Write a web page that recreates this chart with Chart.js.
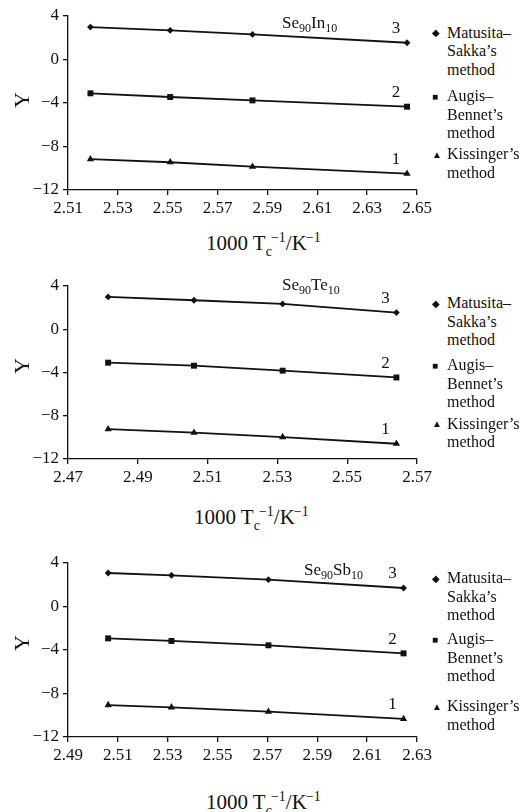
<!DOCTYPE html>
<html>
<head>
<meta charset="utf-8">
<script src="https://cdn.jsdelivr.net/npm/chart.js@4/dist/chart.umd.min.js"></script>
<style>
  body { margin: 0; background: #fff; }
  #page { position: relative; width: 523px; height: 812px; overflow: hidden; font-family: "Liberation Serif", "Times New Roman", serif; color: #111; }
  canvas { position: absolute; left: 0; }
  .txt { position: absolute; white-space: nowrap; }
  .title { font-size: 17px; line-height: 20px; }
  .title sub { font-size: 12px; vertical-align: -4px; line-height: 0; }
  .xtitle { font-size: 21px; line-height: 24px; }
  .xtitle sub { font-size: 14px; vertical-align: -6px; line-height: 0; }
  .xtitle sup { font-size: 14px; vertical-align: 8px; line-height: 0; margin-left: -1px; }
  .ytitle { font-size: 22px; line-height: 24px; transform: rotate(-90deg); }
  .legend { font-size: 16px; line-height: 18.5px; }
  .mark { position: absolute; font-size: 10px; line-height: 12px; }
</style>
</head>
<body>
<div id="page"></div>
<script>
// Se90In10
const inX = [2.519, 2.551, 2.584, 2.646];
const inMatusita = [2.98, 2.68, 2.31, 1.54];
const inAugis = [-3.11, -3.45, -3.76, -4.34];
const inKissinger = [-9.17, -9.45, -9.85, -10.50];
const inXRange = [2.51, 2.65];

// Se90Te10
const teX = [2.4815, 2.5061, 2.5315, 2.5641];
const teMatusita = [2.99, 2.68, 2.34, 1.54];
const teAugis = [-3.09, -3.37, -3.83, -4.46];
const teKissinger = [-9.24, -9.57, -9.97, -10.59];
const teXRange = [2.47, 2.57];

// Se90Sb10
const sbX = [2.5061, 2.5315, 2.5704, 2.6246];
const sbMatusita = [3.08, 2.87, 2.47, 1.70];
const sbAugis = [-2.93, -3.17, -3.57, -4.31];
const sbKissinger = [-9.06, -9.27, -9.67, -10.34];
const sbXRange = [2.49, 2.63];

const xStep = 0.02;
const yRange = [-12, 4];
const yStep = 2;
const yLabelEvery = 4;

const methodNames = ["Matusita–Sakka’s method", "Augis–Bennet’s method", "Kissinger’s method"];
const curveNumbers = ["3", "2", "1"];
const pointStyles = ["rectRot", "rect", "triangle"];

const FONT = '"Liberation Serif", "Times New Roman", Times, serif';
Chart.defaults.font.family = FONT;
Chart.defaults.color = "#111";
const page = document.getElementById("page");

// curve numbers 1/2/3 next to the last point of each line
const curveLabels = {
    id: "curveLabels",
    afterDatasetsDraw(chart) {
        const ctx = chart.ctx;
        ctx.save();
        ctx.font = "17px " + FONT;
        ctx.fillStyle = "#111";
        ctx.textAlign = "center";
        ctx.textBaseline = "middle";
        chart.data.datasets.forEach((ds, i) => {
            const pts = chart.getDatasetMeta(i).data;
            const last = pts[pts.length - 1];
            ctx.fillText(curveNumbers[i], last.x - 11, last.y - 14);
        });
        ctx.restore();
    }
};

function addText(cls, html, left, top) {
    const d = document.createElement("div");
    d.className = "txt " + cls;
    d.innerHTML = html;
    d.style.left = left + "px";
    d.style.top = top + "px";
    page.appendChild(d);
    return d;
}

function makePanel(p) {
    const cv = document.createElement("canvas");
    cv.style.top = p.top + "px";
    cv.style.width = "440px";
    cv.style.height = p.height + "px";
    cv.width = 440;
    cv.height = p.height;
    page.appendChild(cv);

    const series = [p.matusita, p.augis, p.kissinger];
    new Chart(cv.getContext("2d"), {
        type: "scatter",
        data: {
            datasets: series.map((ys, i) => ({
                label: methodNames[i],
                data: p.x.map((x, j) => ({ x: x, y: ys[j] })),
                showLine: true,
                borderColor: "#111",
                backgroundColor: "#111",
                borderWidth: 1.8,
                pointStyle: pointStyles[i],
                pointRadius: i === 0 ? 3.4 : 4.2,
                pointBorderWidth: 0,
                pointHoverRadius: 4
            }))
        },
        options: {
            responsive: false,
            animation: false,
            layout: { padding: { top: p.padTop, right: 23, left: 0, bottom: 0 } },
            plugins: { legend: { display: false }, tooltip: { enabled: false } },
            scales: {
                x: {
                    type: "linear",
                    min: p.xRange[0],
                    max: p.xRange[1],
                    afterFit: s => { s.height = 30; },
                    border: { display: true, color: "#111", width: 1.3 },
                    grid: { drawOnChartArea: false, drawTicks: true, tickLength: 5, color: "#111", lineWidth: 1.3 },
                    ticks: {
                        stepSize: xStep,
                        padding: 3,
                        color: "#111",
                        font: { family: FONT, size: 17 },
                        maxRotation: 0,
                        callback: v => Number(v).toFixed(2)
                    }
                },
                y: {
                    min: yRange[0],
                    max: yRange[1],
                    afterFit: s => { s.width = 68; },
                    border: { display: true, color: "#111", width: 1.3 },
                    grid: { drawOnChartArea: false, drawTicks: true, tickLength: 5, color: "#111", lineWidth: 1.3 },
                    ticks: {
                        stepSize: yStep,
                        padding: 4,
                        color: "#111",
                        font: { family: FONT, size: 17 },
                        callback: v => (v % yLabelEvery === 0 ? String(v).replace("-", "\u2212") : "")
                    }
                }
            }
        },
        plugins: [curveLabels]
    });

    addText("title", p.title, p.titlePos[0], p.titlePos[1] - 10);
    addText("xtitle", "1000 T<sub>c</sub><sup>\u22121</sup>/K<sup>\u22121</sup>", p.xTitlePos[0], p.xTitlePos[1] - 12);
    addText("ytitle", "Y", p.yTitlePos[0] - 8, p.yTitlePos[1] - 12);

    const lines = [["Matusita–", "Sakka’s", "method"], ["Augis–", "Bennet’s", "method"], ["Kissinger’s", "method"]];
    const marks = ["\u25C6", "\u25A0", "\u25B2"];
    lines.forEach((grp, g) => {
        const y0 = p.legendY[g];
        addText("legend", grp.join("<br>"), 447, y0 - 9.25);
        addText("mark", marks[g], 432, y0 - 6);
    });
}

makePanel({
    top: 0, height: 220, padTop: 16,
    x: inX, matusita: inMatusita, augis: inAugis, kissinger: inKissinger, xRange: inXRange,
    title: "Se<sub>90</sub>In<sub>10</sub>", titlePos: [282, 23],
    xTitlePos: [206, 243], yTitlePos: [22, 100],
    legendY: [33, 96.5, 154.5]
});

makePanel({
    top: 270, height: 219, padTop: 16,
    x: teX, matusita: teMatusita, augis: teAugis, kissinger: teKissinger, xRange: teXRange,
    title: "Se<sub>90</sub>Te<sub>10</sub>", titlePos: [282, 285],
    xTitlePos: [194, 517], yTitlePos: [22, 366],
    legendY: [303.5, 365.5, 424]
});

makePanel({
    top: 548, height: 219, padTop: 15,
    x: sbX, matusita: sbMatusita, augis: sbAugis, kissinger: sbKissinger, xRange: sbXRange,
    title: "Se<sub>90</sub>Sb<sub>10</sub>", titlePos: [304, 570],
    xTitlePos: [206, 802], yTitlePos: [22, 643],
    legendY: [578.5, 639.5, 706.5]
});
</script>
</body>
</html>
